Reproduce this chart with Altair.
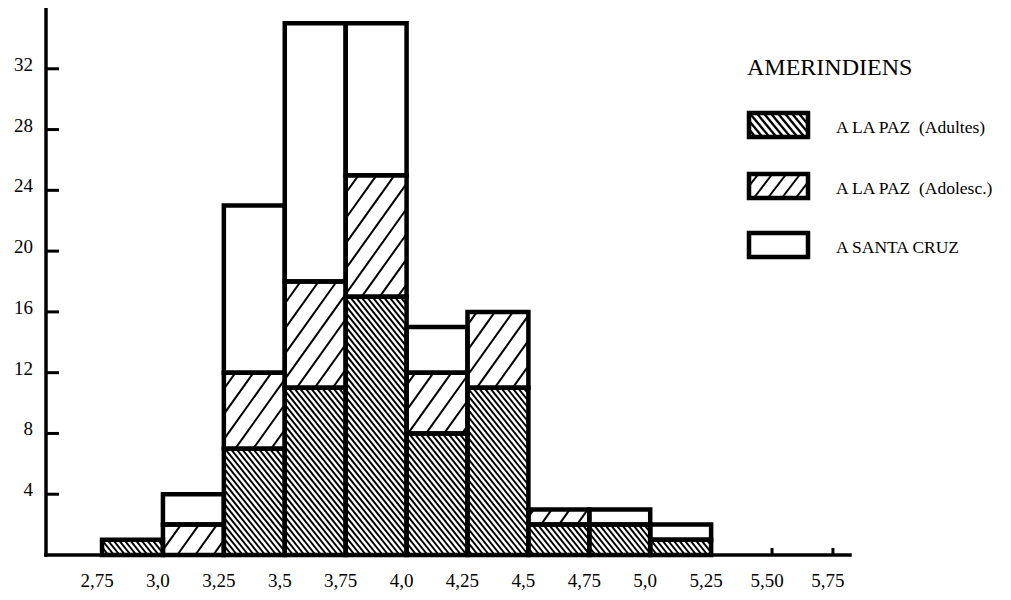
import altair as alt
import numpy as np
import pandas as pd

# ---------------- data ----------------
bins_start = [2.75, 3.0, 3.25, 3.5, 3.75, 4.0, 4.25, 4.5, 4.75, 5.0]
bin_width = 0.25
adultes = [1, 0, 7, 11, 17, 8, 11, 2, 2, 1]
adolesc = [0, 2, 5, 7, 8, 4, 5, 1, 0, 0]
santa_cruz = [0, 2, 11, 17, 10, 3, 0, 0, 1, 1]
series_names = ["A LA PAZ\u00a0\u00a0(Adultes)", "A LA PAZ\u00a0\u00a0(Adolesc.)", "A SANTA CRUZ"]
legend_title = "AMERINDIENS"

x_ticks = [2.75, 3.0, 3.25, 3.5, 3.75, 4.0, 4.25, 4.5, 4.75, 5.0, 5.25, 5.5, 5.75]
x_tick_labels = ["2,75", "3,0", "3,25", "3,5", "3,75", "4,0", "4,25", "4,5",
                 "4,75", "5,0", "5,25", "5,50", "5,75"]
y_ticks = [4, 8, 12, 16, 20, 24, 28, 32]
y_tick_labels = ["4", "8", "12", "16", "20", "24", "28", "32"]

# ---------------- layout / style ----------------
W, H = 804, 547
X_DOMAIN = [2.52, 5.82]
Y_DOMAIN = [0, 36]
kx = W / (X_DOMAIN[1] - X_DOMAIN[0])
ky = H / (Y_DOMAIN[1] - Y_DOMAIN[0])
FONT = "Liberation Serif"
# hatch styles: (period px, slope, direction, line width)
HATCH = {0: (5.6, 1.25, "\\", 2.0), 1: (18.0, 1.4, "/", 2.0)}
HATCH_LEG = {0: (7.0, 1.2, "\\", 2.4), 1: (14.0, 1.3, "/", 2.0)}


def px2x(X):
    return X_DOMAIN[0] + X / kx


def px2y(Y):
    return (H - Y) / ky


def hatch(X0, X1, Y0, Y1, period, s, kind):
    """Hatch segments clipped to a screen-space rectangle (Y downwards)."""
    segs = []
    if kind == "/":
        cmin, cmax = X0 + Y0 / s, X1 + Y1 / s
    else:
        cmin, cmax = X0 - Y1 / s, X1 - Y0 / s
    for k in range(int(np.floor(cmin / period)), int(np.ceil(cmax / period)) + 1):
        c = k * period
        if kind == "/":
            ya, yb = max(Y0, s * (c - X1)), min(Y1, s * (c - X0))
            if yb - ya <= 0.3:
                continue
            segs.append((c - ya / s, ya, c - yb / s, yb))
        else:
            ya, yb = max(Y0, s * (X0 - c)), min(Y1, s * (X1 - c))
            if yb - ya <= 0.3:
                continue
            segs.append((c + ya / s, ya, c + yb / s, yb))
    return segs


# stacked rectangles
rows = []
for i, b in enumerate(bins_start):
    lower = 0
    for j, vals in enumerate([adultes, adolesc, santa_cruz]):
        v = vals[i]
        if v > 0:
            rows.append({"x0": b, "x1": b + bin_width, "y0": lower, "y1": lower + v,
                         "serie": series_names[j], "sid": j})
        lower += v
rects = pd.DataFrame(rows)

# hatch segments (data coordinates)
hrows = []
for r in rows:
    if r["sid"] in HATCH:
        p, s, kind, lw = HATCH[r["sid"]]
        X0 = (r["x0"] - X_DOMAIN[0]) * kx
        X1 = (r["x1"] - X_DOMAIN[0]) * kx
        Y0 = H - r["y1"] * ky
        Y1 = H - r["y0"] * ky
        for (a, b_, c, d) in hatch(X0, X1, Y0, Y1, p, s, kind):
            hrows.append({"hx": px2x(a), "hy": px2y(b_), "hx2": px2x(c), "hy2": px2y(d),
                          "lw": lw})

# legend layout (pixels within plot area), mapped through the same scales
LEG_X0, LEG_X1 = 703, 762
LEG_Y = [105, 166, 225]
LEG_BOX_H = 24
leg_rows = []
for j, y in enumerate(LEG_Y):
    leg_rows.append({"x0": px2x(LEG_X0), "x1": px2x(LEG_X1),
                     "y0": px2y(y + LEG_BOX_H), "y1": px2y(y),
                     "serie": series_names[j], "sid": j,
                     "tx": px2x(790), "ty": px2y(y + 20)})
    if j in HATCH_LEG:
        p, s, kind, lw = HATCH_LEG[j]
        for (a, b_, c, d) in hatch(LEG_X0, LEG_X1, y, y + LEG_BOX_H, p, s, kind):
            hrows.append({"hx": px2x(a), "hy": px2y(b_), "hx2": px2x(c), "hy2": px2y(d),
                          "lw": lw})
legend_df = pd.DataFrame(leg_rows)
boxes = pd.concat([rects, legend_df[["x0", "x1", "y0", "y1", "serie", "sid"]]],
                  ignore_index=True)
hatch_df = pd.DataFrame(hrows)
title_df = pd.DataFrame({"t": [legend_title], "tx": [px2x(701)], "ty": [px2y(67)]})

xt_df = pd.DataFrame({"t": x_ticks, "lab": x_tick_labels})
yt_df = pd.DataFrame({"t": y_ticks, "lab": y_tick_labels})
axes_df = pd.DataFrame({"ax": [X_DOMAIN[0], X_DOMAIN[0]], "ax2": [X_DOMAIN[1], X_DOMAIN[0]],
                        "ay": [Y_DOMAIN[0], Y_DOMAIN[0]], "ay2": [Y_DOMAIN[0], Y_DOMAIN[1]]})

# ---------------- chart ----------------
xs = alt.Scale(domain=X_DOMAIN, nice=False, zero=False)
ys = alt.Scale(domain=Y_DOMAIN, nice=False, zero=False)

fill_layer = alt.Chart(boxes).mark_rect(fill="white", strokeWidth=0).encode(
    x=alt.X("x0:Q", scale=xs, axis=None), x2="x1:Q",
    y=alt.Y("y0:Q", scale=ys, axis=None), y2="y1:Q")

axis_lines = alt.Chart(axes_df).mark_rule(color="black", strokeWidth=3.5,
                                          strokeCap="square").encode(
    x=alt.X("ax:Q", scale=xs, axis=None), x2="ax2:Q",
    y=alt.Y("ay:Q", scale=ys, axis=None), y2="ay2:Q")

xticks_layer = alt.Chart(xt_df).mark_rule(color="black", strokeWidth=3).encode(
    x=alt.X("t:Q", scale=xs, axis=None), y=alt.value(H), y2=alt.value(H - 7))
yticks_layer = alt.Chart(yt_df).mark_rule(color="black", strokeWidth=3).encode(
    y=alt.Y("t:Q", scale=ys, axis=None), x=alt.value(0), x2=alt.value(13))

xlabels = alt.Chart(xt_df).mark_text(
    font=FONT, fontSize=19, color="black", align="center", baseline="middle",
    dx=-5).encode(
    x=alt.X("t:Q", scale=xs, axis=None), y=alt.value(H + 26), text="lab:N")
ylabels = alt.Chart(yt_df).mark_text(
    font=FONT, fontSize=19, color="black", align="right", baseline="middle",
    dy=-4).encode(
    y=alt.Y("t:Q", scale=ys, axis=None), x=alt.value(-13), text="lab:N")

hatch_layer = alt.Chart(hatch_df).mark_rule(color="black", strokeCap="butt").encode(
    x=alt.X("hx:Q", scale=xs, axis=None), x2="hx2:Q",
    y=alt.Y("hy:Q", scale=ys, axis=None), y2="hy2:Q",
    strokeWidth=alt.StrokeWidth("lw:Q", scale=None))

outline_layer = alt.Chart(boxes).mark_rect(
    fillOpacity=0, stroke="black", strokeWidth=4.5, strokeJoin="miter").encode(
    x=alt.X("x0:Q", scale=xs, axis=None), x2="x1:Q",
    y=alt.Y("y0:Q", scale=ys, axis=None), y2="y1:Q")

leg_labels = alt.Chart(legend_df).mark_text(
    font=FONT, fontSize=17.5, color="black", align="left", baseline="alphabetic").encode(
    x=alt.X("tx:Q", scale=xs, axis=None), y=alt.Y("ty:Q", scale=ys, axis=None),
    text="serie:N")
leg_title = alt.Chart(title_df).mark_text(
    font=FONT, fontSize=24, color="black", align="left", baseline="alphabetic").encode(
    x=alt.X("tx:Q", scale=xs, axis=None), y=alt.Y("ty:Q", scale=ys, axis=None),
    text="t:N")

chart = alt.layer(
    fill_layer, axis_lines, xticks_layer, yticks_layer, xlabels, ylabels,
    hatch_layer, outline_layer, leg_labels, leg_title
).properties(
    width=W, height=H,
    padding={"left": 38, "top": 0, "right": 153, "bottom": 37},
    autosize=alt.AutoSizeParams(type="none"),
    background="white",
).configure_view(stroke=None)

chart.save("out.html", embed_options={"renderer": "svg", "actions": False})
